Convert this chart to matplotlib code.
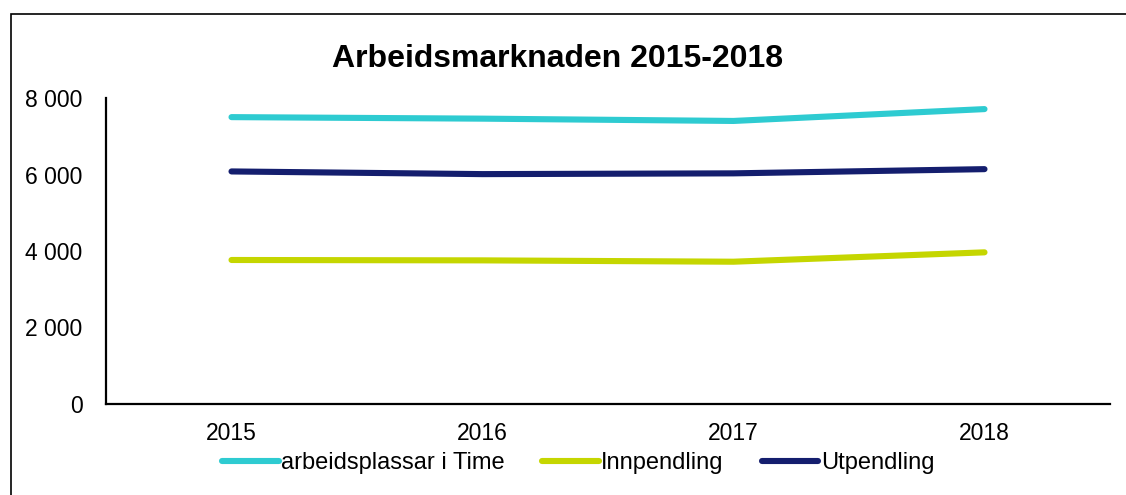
import matplotlib
matplotlib.use("Agg")
import matplotlib.pyplot as plt
from matplotlib.patches import Rectangle
from matplotlib.ticker import FuncFormatter

plt.rcParams["font.family"] = ["Liberation Sans", "DejaVu Sans"]

years = ["2015", "2016", "2017", "2018"]
arbeidsplassar = [7500, 7460, 7400, 7710]
innpendling = [3765, 3755, 3720, 3965]
utpendling = [6080, 6010, 6030, 6140]

series = [
    ("arbeidsplassar i Time", arbeidsplassar, "#2ECBD1"),
    ("Innpendling", innpendling, "#C5D600"),
    ("Utpendling", utpendling, "#141E6E"),
]

fig = plt.figure(figsize=(11.26, 4.95), dpi=100)
ax = fig.add_axes([106 / 1126, 1 - 404 / 495, 1004 / 1126, 306 / 495])

x = range(len(years))
for label, vals, col in series:
    ax.plot(x, vals, color=col, lw=4.4, solid_capstyle="round", label=label)

ax.set_xlim(-0.5, len(years) - 0.5)
ax.set_ylim(0, 8000)
ax.set_xticks(list(x))
ax.set_xticklabels(years)
ax.set_yticks([0, 2000, 4000, 6000, 8000])
ax.yaxis.set_major_formatter(FuncFormatter(lambda v, p: f"{int(v):,}".replace(",", " ")))
ax.tick_params(axis="both", length=0, labelsize=16.5)
ax.tick_params(axis="x", pad=13)
ax.tick_params(axis="y", pad=17)
for s in ["top", "right"]:
    ax.spines[s].set_visible(False)
for s in ["left", "bottom"]:
    ax.spines[s].set_linewidth(1.6)

fig.text(0.495, 1 - 59 / 495, "Arbeidsmarknaden 2015-2018", ha="center", va="center",
         fontsize=23, fontweight="bold")

fig.legend(loc="center", bbox_to_anchor=(578 / 1126, 1 - 463 / 495), ncol=3, frameon=False,
           fontsize=17, handlelength=2.4, handletextpad=0.1, columnspacing=1.6)

# outer chart border
fig.patches.append(Rectangle((11 / 1126, -0.1), 1.2, 1 - 14 / 495 + 0.1,
                             transform=fig.transFigure, fill=False, lw=1.2,
                             edgecolor="black"))

fig.savefig("out.png", dpi=100, facecolor="white")
